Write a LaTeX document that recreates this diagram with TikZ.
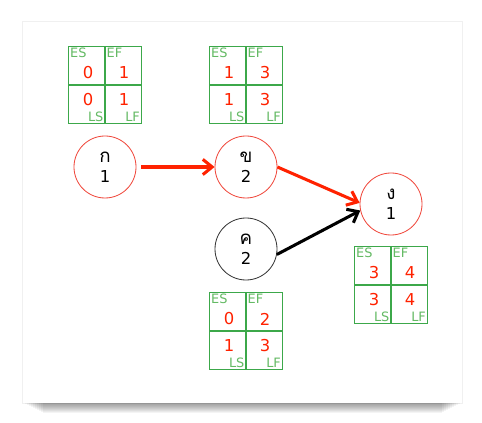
\documentclass[tikz,border=0pt]{standalone}
\usepackage{fontspec}
\setmainfont{DejaVu Sans}
\newfontfamily\thaifont[Script=Thai]{Loma}
\usetikzlibrary{arrows.meta, positioning, calc}
\definecolor{pathred}{RGB}{255,34,0}
\definecolor{ringred}{RGB}{240,70,58}
\definecolor{gridgreen}{RGB}{60,168,74}
\definecolor{taggreen}{RGB}{100,186,100}

% ES/EF/LS/LF table: name, centre, ES, EF, LS, LF
\newcommand{\timebox}[6]{%
  \begin{scope}[shift={#2}]
    \draw[cell] (-36.5,-38.5) rectangle (36.5,38.5);
    \draw[cell] (0,-38.5) -- (0,38.5) (-36.5,0) -- (36.5,0);
    \node[tag, anchor=north west] (#1-estag) at (-36.5,38.5) {ES};
    \node[tag, anchor=north west] (#1-eftag) at (0,38.5) {EF};
    \node[tag, anchor=south east] (#1-lstag) at (0,-38.5) {LS};
    \node[tag, anchor=south east] (#1-lftag) at (36.5,-38.5) {LF};
    \node[num] (#1-es) at (-17,12) {#3};
    \node[num] (#1-ef) at (19,12) {#4};
    \node[num] (#1-ls) at (-17,-15) {#5};
    \node[num] (#1-lf) at (19,-15) {#6};
  \end{scope}}

\begin{document}
\begin{tikzpicture}[
    x=0.03cm, y=0.03cm,
    task/.style={circle, draw=ringred, line width=0.7pt, minimum size=1.86cm, inner sep=0pt, align=center, font=\fontsize{14}{17}\selectfont},
    cell/.style={draw=gridgreen, line width=0.9pt},
    tag/.style={inner sep=1.2pt, text=taggreen, font=\fontsize{11}{13}\selectfont},
    num/.style={inner sep=0pt, text=pathred, font=\fontsize{14}{16}\selectfont},
    flow/.style={line width=2.6pt, -{Straight Barb[length=8pt, width=13pt, line width=2.6pt]}}
]

    % paper and its shadow
    \fill[white] (0,0) rectangle (482,422);
    \foreach \i in {1,...,10}
        \fill[black, opacity=0.045] (23+\i*2,19-\i) rectangle (462-\i*2,200);
    \fill[black, opacity=0.06] (22,18) rectangle (463,401);
    \fill[white] (23,19) rectangle (462,400);

    % activities
    \node[task] (kokai) at (105,255) {{\thaifont\fontsize{16}{17}\selectfont ก}\\1};
    \node[task] (khokhai) at (246,255) {{\thaifont\fontsize{16}{17}\selectfont ข}\\2};
    \node[task, draw=black!80] (khokhwai) at (246,173) {{\thaifont\fontsize{16}{17}\selectfont ค}\\2};
    \node[task] (ngongu) at (391,218) {{\thaifont\fontsize{16}{17}\selectfont ง}\\1};

    % time tables
    \timebox{tkokai}{($(kokai)+(0,82)$)}{0}{1}{0}{1}
    \timebox{tkhokhai}{($(khokhai)+(0,82)$)}{1}{3}{1}{3}
    \timebox{tkhokhwai}{($(khokhwai)+(0,-82)$)}{0}{2}{1}{3}
    \timebox{tngongu}{($(ngongu)+(0,-81)$)}{3}{4}{3}{4}

    \draw[flow, pathred, shorten <=4pt] (kokai) -- (khokhai);
    \draw[flow, pathred] (khokhai.east) -- (ngongu.178);
    \draw[flow, black] (khokhwai.-10) -- (ngongu.192);

\end{tikzpicture}
\end{document}
